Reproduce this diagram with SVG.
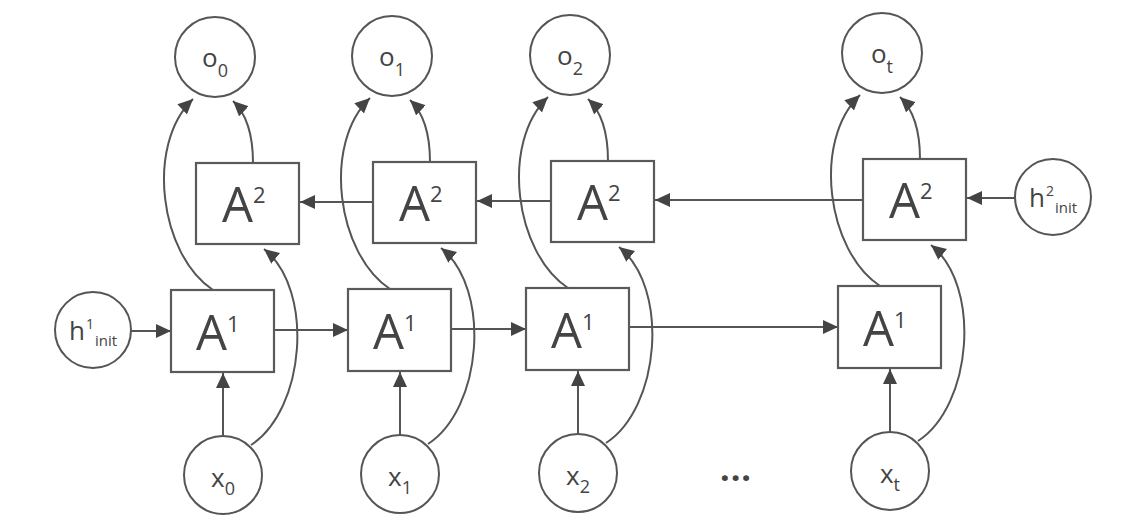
<svg xmlns="http://www.w3.org/2000/svg" width="1124" height="528" viewBox="0 0 1124 528">
<style>
.c{fill:#fff;stroke:#555;stroke-width:2}
.b{fill:#fff;stroke:#5a5a5a;stroke-width:2.2}
.ln{fill:none;stroke:#555;stroke-width:2;marker-end:url(#ah)}
.t{font-family:"Open Sans","Noto Sans",sans-serif;fill:#444}
.big{font-size:49px}
.sup{font-size:22px}
.lab{font-size:26px}
.sub{font-size:18px}
.hsup{font-size:14px}
.hsub{font-size:15px}
</style>
<defs>
<marker id="ah" markerUnits="userSpaceOnUse" markerWidth="16" markerHeight="14" refX="15" refY="7" orient="auto">
<path d="M0,0 L15,7 L0,14 z" fill="#444"/>
</marker>
</defs>
<rect width="1124" height="528" fill="#fff"/>

<g id="connectors">
<g id="col0-links">
<path class="ln" d="M223,436 L223,373"/>
<path class="ln" d="M213,290 C160,255 145,145 193,99"/>
<path class="ln" d="M253,163 Q253,120 233,101"/>
<path class="ln" d="M251,445 C305,410 315,290 264,249"/>
</g>
<g id="col1-links" transform="translate(177,-1)">
<path class="ln" d="M223,436 L223,373"/>
<path class="ln" d="M213,290 C160,255 145,145 193,99"/>
<path class="ln" d="M253,163 Q253,120 233,101"/>
<path class="ln" d="M251,445 C305,410 315,290 264,249"/>
</g>
<g id="col2-links" transform="translate(355,-2)">
<path class="ln" d="M223,436 L223,373"/>
<path class="ln" d="M213,290 C160,255 145,145 193,99"/>
<path class="ln" d="M253,163 Q253,120 233,101"/>
<path class="ln" d="M251,445 C305,410 315,290 264,249"/>
</g>
<g id="colt-links" transform="translate(667,-4)">
<path class="ln" d="M223,436 L223,373"/>
<path class="ln" d="M213,290 C160,255 145,145 193,99"/>
<path class="ln" d="M253,163 Q253,120 233,101"/>
<path class="ln" d="M251,445 C305,410 315,290 264,249"/>
</g>
<path class="ln" d="M131,331 L171,331"/>
<path class="ln" d="M274,330 L348,330"/>
<path class="ln" d="M451,329 L526,329"/>
<path class="ln" d="M629,327 L838,327"/>
<path class="ln" d="M1015,198 L967,198"/>
<path class="ln" d="M863,200 L655,200"/>
<path class="ln" d="M551,201 L477,201"/>
<path class="ln" d="M373,202 L300,202"/>
</g>

<g id="o0"><circle class="c" cx="215" cy="57" r="40"/><text class="t lab" x="215" y="67" text-anchor="middle">o<tspan class="sub" dy="10">0</tspan></text></g>
<g id="o1"><circle class="c" cx="392" cy="56" r="40"/><text class="t lab" x="392" y="66" text-anchor="middle">o<tspan class="sub" dy="10">1</tspan></text></g>
<g id="o2"><circle class="c" cx="570" cy="55" r="40"/><text class="t lab" x="570" y="65" text-anchor="middle">o<tspan class="sub" dy="10">2</tspan></text></g>
<g id="ot"><circle class="c" cx="882" cy="53" r="40"/><text class="t lab" x="882" y="63" text-anchor="middle">o<tspan class="sub" dy="10">t</tspan></text></g>

<g id="A2_0"><rect class="b" x="196" y="163" width="103" height="81"/><text class="t big" x="222" y="222">A<tspan class="sup" dy="-19">2</tspan></text></g>
<g id="A2_1"><rect class="b" x="373" y="162" width="103" height="81"/><text class="t big" x="399" y="221">A<tspan class="sup" dy="-19">2</tspan></text></g>
<g id="A2_2"><rect class="b" x="551" y="161" width="103" height="81"/><text class="t big" x="577" y="220">A<tspan class="sup" dy="-19">2</tspan></text></g>
<g id="A2_t"><rect class="b" x="863" y="159" width="103" height="81"/><text class="t big" x="889" y="218">A<tspan class="sup" dy="-19">2</tspan></text></g>

<g id="A1_0"><rect class="b" x="171" y="290" width="103" height="82"/><text class="t big" x="196" y="350">A<tspan class="sup" dy="-18">1</tspan></text></g>
<g id="A1_1"><rect class="b" x="348" y="289" width="103" height="82"/><text class="t big" x="373" y="349">A<tspan class="sup" dy="-18">1</tspan></text></g>
<g id="A1_2"><rect class="b" x="526" y="288" width="103" height="82"/><text class="t big" x="551" y="348">A<tspan class="sup" dy="-18">1</tspan></text></g>
<g id="A1_t"><rect class="b" x="838" y="286" width="103" height="82"/><text class="t big" x="863" y="346">A<tspan class="sup" dy="-18">1</tspan></text></g>

<g id="x0"><circle class="c" cx="223" cy="475" r="39"/><text class="t lab" x="223" y="487" text-anchor="middle">x<tspan class="sub" dy="8">0</tspan></text></g>
<g id="x1"><circle class="c" cx="400" cy="474" r="39"/><text class="t lab" x="400" y="486" text-anchor="middle">x<tspan class="sub" dy="8">1</tspan></text></g>
<g id="x2"><circle class="c" cx="578" cy="473" r="39"/><text class="t lab" x="578" y="485" text-anchor="middle">x<tspan class="sub" dy="8">2</tspan></text></g>
<g id="xt"><circle class="c" cx="890" cy="471" r="39"/><text class="t lab" x="890" y="483" text-anchor="middle">x<tspan class="sub" dy="8">t</tspan></text></g>

<g id="h1init"><circle class="c" cx="93" cy="330" r="38"/><text class="t lab" x="93" y="340" text-anchor="middle">h<tspan class="hsup" dx="1" dy="-11">1</tspan><tspan class="hsub" dx="1" dy="17">init</tspan></text></g>
<g id="h2init"><circle class="c" cx="1053" cy="197" r="38"/><text class="t lab" x="1053" y="207" text-anchor="middle">h<tspan class="hsup" dx="1" dy="-11">2</tspan><tspan class="hsub" dx="1" dy="17">init</tspan></text></g>

<g id="ellipsis"><text class="t" x="736" y="481" text-anchor="middle" font-size="34" font-weight="bold" fill="#333" letter-spacing="1">...</text></g>
</svg>
